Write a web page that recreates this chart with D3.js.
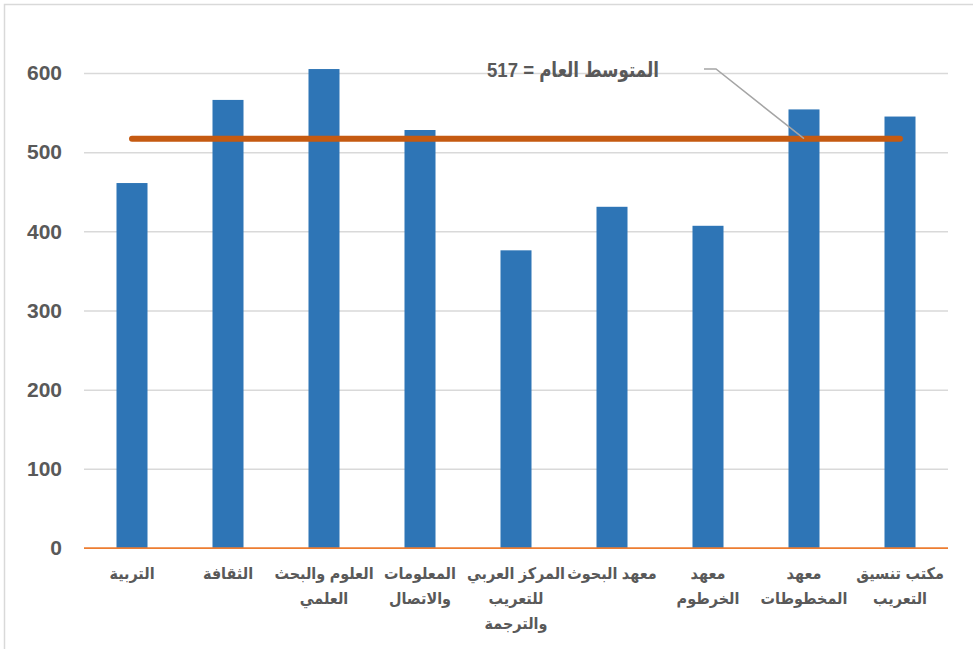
<!DOCTYPE html>
<html lang="ar">
<head>
<meta charset="utf-8">
<title>المتوسط العام</title>
<script src="https://cdn.jsdelivr.net/npm/d3@7/dist/d3.min.js"></script>
<style>
  html, body { margin: 0; padding: 0; background: #ffffff; }
  svg { display: block; }
  text { font-family: "Liberation Sans", "DejaVu Sans Condensed", "DejaVu Sans", sans-serif; font-weight: bold; fill: #595959; }
</style>
</head>
<body>
<svg id="chart" width="973" height="649"></svg>
<script>
// Category labels (line breaks mark where each label wraps under its bar)
const categories = [
  "التربية",
  "الثقافة",
  "العلوم والبحث\nالعلمي",
  "المعلومات\nوالاتصال",
  "المركز العربي\nللتعريب\nوالترجمة",
  "معهد البحوث",
  "معهد\nالخرطوم",
  "معهد\nالمخطوطات",
  "مكتب تنسيق\nالتعريب"
];
// Bar values per organisation
const values = [461, 566, 605, 528, 376, 431, 407, 554, 545];
// Overall average drawn as a horizontal line
const averageValue = 517;
const averageLabel = "المتوسط العام = 517";
// Value axis ticks
const yTicks = [0, 100, 200, 300, 400, 500, 600];

const svg = d3.select("#chart");
const W = 973, H = 649;
const plot = { left: 84, right: 948, top: 73, bottom: 548 };

// Chart frame
svg.append("rect")
  .attr("x", 4.5).attr("y", 4.5)
  .attr("width", W + 10).attr("height", H + 10)
  .attr("fill", "none").attr("stroke", "#d9d9d9").attr("stroke-width", 1.5);

const x = d3.scaleBand()
  .domain(categories)
  .range([plot.left, plot.right])
  .paddingInner(0.677)
  .paddingOuter(0.677 / 2);

const y = d3.scaleLinear()
  .domain([0, 600])
  .range([plot.bottom, plot.top]);

// Horizontal gridlines
const grid = svg.append("g")
  .attr("transform", `translate(${plot.left},0)`)
  .call(d3.axisLeft(y).tickValues(yTicks.filter(t => t > 0))
    .tickSize(-(plot.right - plot.left)).tickFormat(""));
grid.select(".domain").remove();
grid.selectAll("line").attr("stroke", "#d9d9d9").attr("stroke-width", 1.5);

// Value axis labels
const yAxis = svg.append("g")
  .attr("transform", `translate(62,0)`)
  .call(d3.axisLeft(y).tickValues(yTicks).tickSize(0).tickPadding(0));
yAxis.select(".domain").remove();
yAxis.selectAll("text")
  .attr("font-size", 21)
  .attr("fill", "#595959")
  .style("font-family", "'Liberation Sans', Arial, sans-serif")
  .style("font-weight", "bold");

// Bars
svg.append("g").selectAll("rect")
  .data(categories.map((c, i) => ({ c, v: values[i] })))
  .join("rect")
  .attr("x", d => x(d.c))
  .attr("y", d => y(d.v))
  .attr("width", x.bandwidth())
  .attr("height", d => y(0) - y(d.v))
  .attr("fill", "#2e75b6");

// Category axis baseline
svg.append("line")
  .attr("x1", plot.left).attr("x2", plot.right)
  .attr("y1", y(0)).attr("y2", y(0))
  .attr("stroke", "#ed7d31").attr("stroke-width", 1.75);

// Average line through every category
const avgLine = d3.line()
  .x(d => x(d) + x.bandwidth() / 2)
  .y(() => y(averageValue));
svg.append("path")
  .attr("d", avgLine(categories))
  .attr("fill", "none")
  .attr("stroke", "#c55a11")
  .attr("stroke-width", 6)
  .attr("stroke-linecap", "round");

// Category labels, wrapped onto several lines
const labels = svg.append("g").selectAll("text")
  .data(categories)
  .join("text")
  .attr("text-anchor", "middle")
  .attr("direction", "rtl")
  .attr("font-size", 16);
labels.each(function (c) {
  const cx = x(c) + x.bandwidth() / 2;
  d3.select(this).selectAll("tspan")
    .data(c.split("\n"))
    .join("tspan")
    .attr("x", cx)
    .attr("y", (d, i) => 579 + i * 25)
    .text(d => d);
});

// Average callout with leader line
const target = categories[7];
const tx = x(target) + x.bandwidth() / 2, ty = y(averageValue);
svg.append("polyline")
  .attr("points", `704,69 716,69 ${tx},${ty}`)
  .attr("fill", "none").attr("stroke", "#a5a5a5").attr("stroke-width", 1.5);
svg.append("text")
  .attr("x", 573).attr("y", 77)
  .attr("text-anchor", "middle")
  .attr("direction", "rtl")
  .attr("font-size", 21)
  .attr("textLength", 172)
  .attr("lengthAdjust", "spacingAndGlyphs")
  .attr("fill", "#404040")
  .text(averageLabel);
</script>
</body>
</html>
